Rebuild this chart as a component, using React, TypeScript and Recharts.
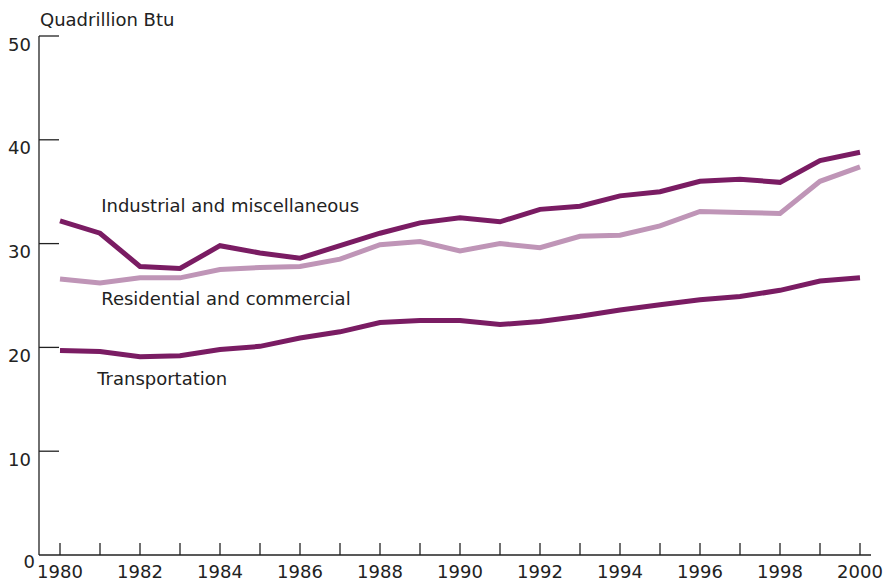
import { LineChart, Line, XAxis, YAxis, ReferenceDot } from 'recharts'

const years = [1980, 1981, 1982, 1983, 1984, 1985, 1986, 1987, 1988, 1989, 1990, 1991, 1992, 1993, 1994, 1995, 1996, 1997, 1998, 1999, 2000]
const industrial = [32.2, 31.0, 27.8, 27.6, 29.8, 29.1, 28.6, 29.8, 31.0, 32.0, 32.5, 32.1, 33.3, 33.6, 34.6, 35.0, 36.0, 36.2, 35.9, 38.0, 38.8]
const residential = [26.6, 26.2, 26.7, 26.7, 27.5, 27.7, 27.8, 28.5, 29.9, 30.2, 29.3, 30.0, 29.6, 30.7, 30.8, 31.7, 33.1, 33.0, 32.9, 36.0, 37.4]
const transportation = [19.7, 19.6, 19.1, 19.2, 19.8, 20.1, 20.9, 21.5, 22.4, 22.6, 22.6, 22.2, 22.5, 23.0, 23.6, 24.1, 24.6, 24.9, 25.5, 26.4, 26.7]
const yTicks = [0, 10, 20, 30, 40, 50]
const labelledYears = [1980, 1982, 1984, 1986, 1988, 1990, 1992, 1994, 1996, 1998, 2000]

const data = years.map((year, i) => ({
  year,
  industrial: industrial[i],
  residential: residential[i],
  transportation: transportation[i],
}))

const dark = '#7a1c63'
const light = '#bf95b7'
const ink = '#222'
const font = '"DejaVu Sans", sans-serif'

function XTick(props: any) {
  const { x, y, payload } = props
  return (
    <g>
      <line x1={x} y1={y} x2={x} y2={y - 12} stroke={ink} strokeWidth={1.3} />
      {labelledYears.includes(payload.value) && (
        <text x={x} y={y + 23} textAnchor="middle" fill={ink} fontSize={18} fontFamily={font}>
          {payload.value}
        </text>
      )}
    </g>
  )
}

function YTick(props: any) {
  const { x, y, payload } = props
  const isZero = payload.value === 0
  return (
    <g>
      {!isZero && <line x1={x} y1={y} x2={x + 20} y2={y} stroke={ink} strokeWidth={1.3} />}
      <text
        x={isZero ? x - 4 : x - 8}
        y={y + (isZero ? 6 : 8)}
        textAnchor="end"
        dominantBaseline="central"
        fill={ink}
        fontSize={18}
        fontFamily={font}
      >
        {payload.value}
      </text>
    </g>
  )
}

function SeriesLabel(text: string) {
  return (p: any) => (
    <text x={p.cx} y={p.cy} dominantBaseline="central" fill={ink} fontSize={18} fontFamily={font}>
      {text}
    </text>
  )
}

export default function App() {
  return (
    <div style={{ position: 'absolute', left: 0, top: 0, width: 886, height: 581, background: '#fff' }}>
      <div style={{ position: 'absolute', left: 40, top: 9, fontFamily: font, fontSize: 18, color: ink, lineHeight: 'normal' }}>
        Quadrillion Btu
      </div>
      <LineChart width={886} height={581} data={data} margin={{ top: 36, right: 15, bottom: 0, left: 0 }}>
        <XAxis
          dataKey="year"
          type="number"
          domain={[1980, 2000]}
          ticks={years}
          interval={0}
          padding={{ left: 21, right: 11 }}
          height={26}
          tickSize={0}
          tickMargin={0}
          tickLine={false}
          axisLine={{ stroke: ink, strokeWidth: 1.3 }}
          tick={<XTick />}
        />
        <YAxis
          type="number"
          domain={[0, 50]}
          ticks={yTicks}
          width={39}
          tickSize={0}
          tickMargin={0}
          tickLine={false}
          axisLine={{ stroke: ink, strokeWidth: 1.3 }}
          tick={<YTick />}
        />
        <Line type="linear" dataKey="residential" stroke={light} strokeWidth={5} dot={false} isAnimationActive={false} />
        <Line type="linear" dataKey="industrial" stroke={dark} strokeWidth={5} dot={false} isAnimationActive={false} />
        <Line type="linear" dataKey="transportation" stroke={dark} strokeWidth={5} dot={false} isAnimationActive={false} />
        <ReferenceDot x={1981.03} y={33.7} r={0} shape={SeriesLabel('Industrial and miscellaneous')} />
        <ReferenceDot x={1981.03} y={24.7} r={0} shape={SeriesLabel('Residential and commercial')} />
        <ReferenceDot x={1980.93} y={17.05} r={0} shape={SeriesLabel('Transportation')} />
      </LineChart>
    </div>
  )
}
